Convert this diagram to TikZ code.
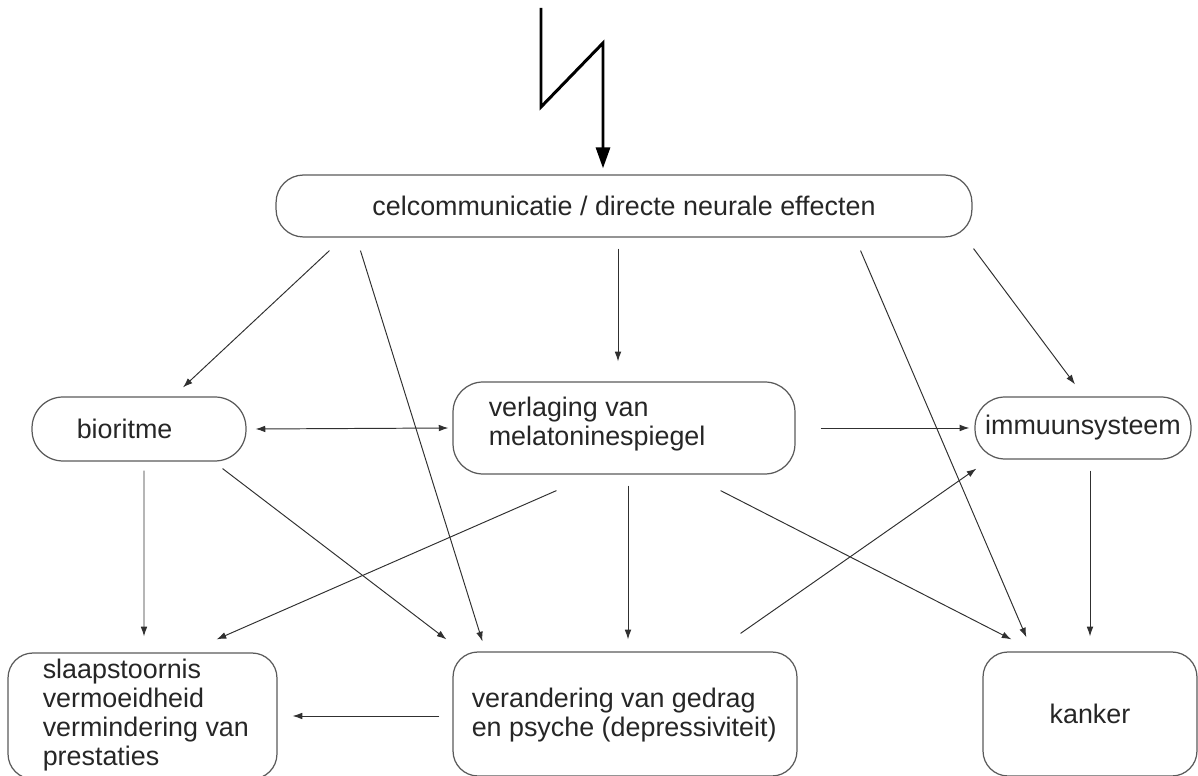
\documentclass[tikz,border=0pt]{standalone}
\usepackage{fontspec}
\setmainfont{Liberation Sans}
\usetikzlibrary{arrows.meta,calc}
\definecolor{boxline}{HTML}{5A5A5A}
\definecolor{txtcol}{HTML}{262626}
\definecolor{arrcol}{HTML}{303030}
\begin{document}
\begin{tikzpicture}[x=0.02cm,y=-0.02cm,
  every node/.style={font=\fontsize{15.3}{16.5}\selectfont, text=txtcol},
  box/.style={draw=boxline, line width=0.7pt, inner sep=0pt},
  txt/.style={align=left, inner sep=0pt, anchor=west},
  arr/.style={draw=arrcol, line width=0.55pt, -{Latex[length=5.5pt,width=3.8pt]}},
  darr/.style={draw=arrcol, line width=0.55pt, {Latex[length=5.5pt,width=3.8pt]}-{Latex[length=5.5pt,width=3.8pt]}},
  bolt/.style={draw=black, line width=1.7pt, -{Triangle[length=12pt,width=8pt]}}
]
\useasboundingbox (0,0) rectangle (1198,776);

% boxes
\node[box, rounded corners=0.55cm, minimum width=13.92cm, minimum height=1.24cm] (top) at (624,206) {celcommunicatie / directe neurale effecten};

\node[box, rounded corners=0.62cm, minimum width=4.28cm, minimum height=1.28cm] (bio) at (139,429) {};
\node[txt] (bioT) at ($(bio.west)+(45,0)$) {bioritme};

\node[box, rounded corners=0.6cm, minimum width=6.84cm, minimum height=1.84cm] (verl) at (624,428) {};
\node[txt] (verlT) at ($(verl.west)+(36,-4)$) {verlaging van\\melatoninespiegel};

\node[box, rounded corners=0.6cm, minimum width=4.32cm, minimum height=1.24cm] (imm) at (1083,428) {immuunsysteem};

\node[box, rounded corners=0.5cm, minimum width=5.38cm, minimum height=2.52cm] (slaap) at (142.5,716) {};
\node[txt] (slaapT) at ($(slaap.west)+(35,-1)$) {slaapstoornis\\vermoeidheid\\vermindering van\\prestaties};

\node[box, rounded corners=0.5cm, minimum width=6.88cm, minimum height=2.48cm] (ver) at (625,714) {};
\node[txt] (verT) at ($(ver.west)+(19,1)$) {verandering van gedrag\\en psyche (depressiviteit)};

\node[box, rounded corners=0.5cm, minimum width=4.28cm, minimum height=2.48cm] (kank) at (1090,714) {kanker};

% lightning bolt
\coordinate (b0) at (541,8);
\coordinate (b1) at (541,107);
\coordinate (b2) at (603,43);
\draw[bolt, line join=miter] (b0) -- (b1) -- (b2) -- ($(top.north)+(-21,-6)$);

% connectors
\draw[arr] ($(top.south west)+(54,13)$) -- ($(bio.north)+(44,-9)$);
\draw[arr] ($(top.south west)+(85,13)$) -- ($(ver.north west)+(30,-10)$);
\draw[arr] ($(top.south)+(-6,11)$) -- ($(verl.north)+(-6,-20)$);
\draw[arr] ($(top.south east)+(-112,13)$) -- ($(kank.north west)+(44,-14)$);
\draw[arr] ($(top.south east)+(1,11)$) -- ($(imm.north)+(-8,-12)$);
\draw[darr] ($(bio.east)+(9,0)$) -- ($(verl.west)+(-4,0)$);
\draw[arr] ($(verl.east)+(25,0)$) -- ($(imm.west)+(-5,0)$);
\draw[arr] ($(bio.south)+(5,9)$) -- ($(slaap.north)+(1.5,-16)$);
\draw[arr] ($(bio.south east)+(-24,7)$) -- ($(ver.north west)+(-6,-12)$);
\draw[arr] ($(verl.south west)+(104,16)$) -- ($(slaap.north east)+(-61,-13)$);
\draw[arr] ($(verl.south)+(4,11)$) -- ($(ver.north)+(3,-12)$);
\draw[arr] ($(verl.south east)+(-75,16)$) -- ($(kank.north west)+(29,-12)$);
\draw[arr] ($(ver.north east)+(-57,-18)$) -- ($(imm.south west)+(2,9)$);
\draw[arr] ($(imm.south)+(7,11)$) -- ($(kank.north)+(0,-15)$);
\draw[arr] ($(ver.west)+(-13,2)$) -- ($(slaap.east)+(15,0)$);
\end{tikzpicture}
\end{document}
